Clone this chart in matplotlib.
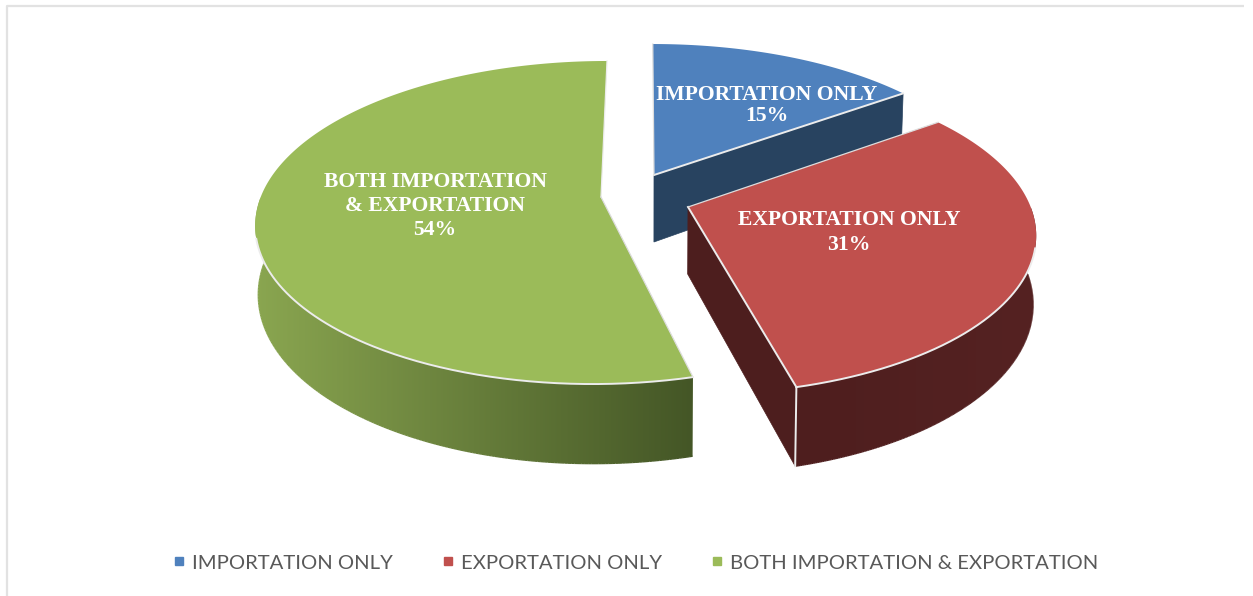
import numpy as np
import matplotlib
matplotlib.use("Agg")
import matplotlib.pyplot as plt
from matplotlib.collections import LineCollection
from matplotlib.colors import to_rgb
from matplotlib.lines import Line2D
from matplotlib.patches import Polygon

categories = ["IMPORTATION ONLY", "EXPORTATION ONLY", "BOTH IMPORTATION & EXPORTATION"]
values = [15, 31, 54]
slice_labels = ["IMPORTATION ONLY", "EXPORTATION ONLY", "BOTH IMPORTATION\n& EXPORTATION"]

# style / geometry
top_colors = ["#4f81bd", "#c0504d", "#9bbb59"]
cut_colors = ["#284360", "#4d1e1e", None]
wall_left = ["#284360", "#4e1e1e", "#8aa650"]
wall_right = ["#284360", "#552222", "#445626"]
centers = [(654, 175), (688, 207), (601, 197)]
slice_scale = [(0.987, 0.963), (1.002, 1.0), (0.995, 1.0)]
label_pos = [(767, 105.5), (849, 232.5), (435, 206)]
label_spacing = [1.12, 1.3, 1.25]
RX, RY, K, DEPTH = 342.0, 157.5, 0.158, 67.0
VANISH_X = 645.0
BOTTOM_SHRINK = 0.992
EDGE = "#ececec"

fig = plt.figure(figsize=(12.53, 5.96), dpi=100, facecolor="white")
ax = fig.add_axes([0, 0, 1, 1])
ax.set_xlim(0, 1253)
ax.set_ylim(596, 0)
ax.axis("off")


def project(i, theta, z=0.0):
    """Perspective projection of a rim point of slice i; z=1 is the pie's underside."""
    cx, cy = centers[i]
    sx, sy = slice_scale[i]
    X, Y = np.sin(theta), np.cos(theta)
    w = 1 + K * Y
    x = VANISH_X + ((cx - VANISH_X) + RX * sx * X) / w
    x = VANISH_X + (x - VANISH_X) * (1 - (1 - BOTTOM_SHRINK) * z)
    return np.column_stack([x, cy - RY * sy * Y / w + DEPTH * z / w])


def apex(i, z=0.0):
    cx, cy = centers[i]
    x = VANISH_X + (cx - VANISH_X) * (1 - (1 - BOTTOM_SHRINK) * z)
    return np.array([[x, cy + DEPTH * z]])


# chart-area border (top and left lines)
ax.plot([6.5, 6.5, 1244], [596, 5.5, 5.5], color="#e2e2e2", lw=1.6, solid_capstyle="butt", zorder=0)

fracs = np.array(values) / sum(values)
edges = np.concatenate([[0], np.cumsum(fracs)]) * 2 * np.pi

for i in range(len(values)):
    t = np.linspace(edges[i], edges[i + 1], 400)
    z0 = 10 + i
    rim_top, rim_bot = project(i, t), project(i, t, 1)

    # outer wall (front half only): horizontal gradient clipped to the wall outline
    near = np.cos(t) < 0
    if near.any():
        outline = np.vstack([rim_top[near], rim_bot[near][::-1]])
        x0, x1 = outline[:, 0].min(), outline[:, 0].max()
        y0, y1 = outline[:, 1].min(), outline[:, 1].max()
        a, b = np.array(to_rgb(wall_left[i])), np.array(to_rgb(wall_right[i]))
        grad = a + (b - a) * np.linspace(0, 1, 512)[None, :, None]
        wall = Polygon(outline, closed=True, fc="none", ec="none", transform=ax.transData)
        ax.add_patch(wall)
        im = ax.imshow(grad, extent=(x0, x1, y1, y0), aspect="auto", zorder=z0, interpolation="bilinear")
        im.set_clip_path(wall)
        # smooth the clipped lower boundary
        low = rim_bot[near]
        f = (low[:, 0] - x0) / max(x1 - x0, 1)
        segs = np.stack([low[:-1], low[1:]], axis=1)
        ax.add_collection(LineCollection(segs, colors=[a + (b - a) * v for v in f[:-1]], lw=1.0, zorder=z0))

    # visible cut face (closing edge of the two exploded slices)
    if cut_colors[i] is not None:
        ax.add_patch(Polygon(np.vstack([apex(i), rim_top[-1:], rim_bot[-1:], apex(i, 1)]), closed=True,
                             fc=cut_colors[i], ec=cut_colors[i], lw=0.5, zorder=z0 + 0.1))

    # top face
    ax.add_patch(Polygon(np.vstack([apex(i), rim_top]), closed=True, fc=top_colors[i],
                         ec="none", zorder=z0 + 0.2))
    # white rim highlights
    ax.plot(*np.vstack([apex(i), rim_top[-1:]]).T, color=EDGE, lw=1.4 if i < 2 else 0.9, zorder=z0 + 0.3)
    ax.plot(*np.vstack([apex(i), rim_top[:1]]).T, color="#dddddd", lw=0.9, zorder=z0 + 0.3)
    if i > 0:
        front = np.cos(t) < -0.25
        ax.plot(rim_top[front, 0], rim_top[front, 1], color=EDGE, lw=1.4, zorder=z0 + 0.3)
    if i == 1:
        ax.plot(*np.vstack([rim_top[-1:], rim_bot[-1:]]).T, color=EDGE, lw=1.4, zorder=z0 + 0.3)

    ax.text(*label_pos[i], f"{slice_labels[i]}\n{values[i]}%", color="white", ha="center",
            va="center", family="Liberation Serif", weight="bold", fontsize=15.6,
            linespacing=label_spacing[i], zorder=30)

ax.set_xlim(0, 1253)
ax.set_ylim(596, 0)

handles = [Line2D([], [], ls="none", marker="s", ms=6.0, mfc=col, mec=col) for col in top_colors]
ax.legend(handles, categories, ncol=3, loc="center", bbox_to_anchor=(0.5076, 0.0555), frameon=False,
          prop={"family": "Lato", "size": 14.6}, labelcolor="#595959", handlelength=0.55,
          handletextpad=0.36, columnspacing=2.45)

fig.savefig("out.png", dpi=100)
